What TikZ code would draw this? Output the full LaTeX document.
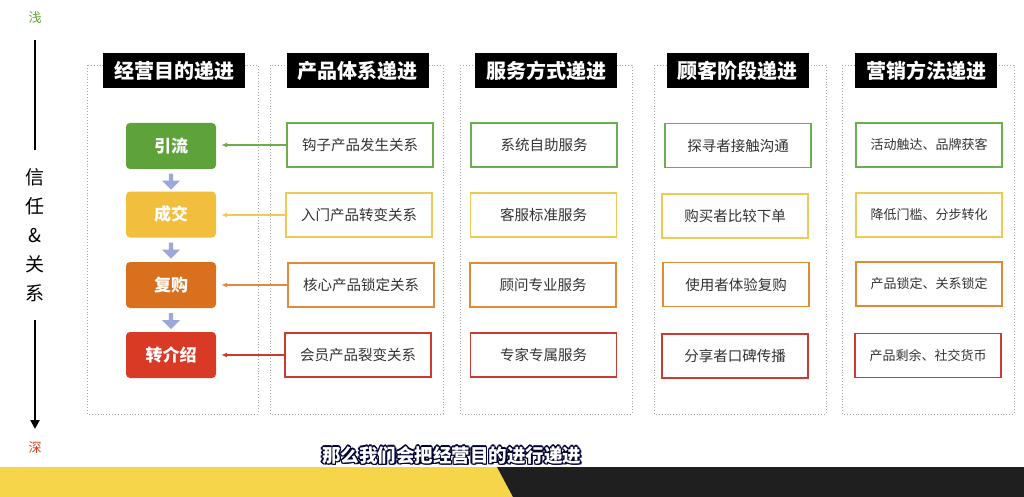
\documentclass[tikz,border=0pt]{standalone}
\usepackage{fontspec}
\setmainfont{Noto Sans CJK SC}
\newfontfamily\cjk{Noto Sans CJK SC}
\usetikzlibrary{shapes.arrows,arrows.meta}
\definecolor{cgreen}{HTML}{5EA23A}
\definecolor{cyellow}{HTML}{F2BE3E}
\definecolor{corange}{HTML}{D9701E}
\definecolor{cred}{HTML}{D93A26}
\definecolor{bgreen}{HTML}{6AAE4F}
\definecolor{byellow}{HTML}{EFCB55}
\definecolor{borange}{HTML}{E08A3A}
\definecolor{bred}{HTML}{CC3B30}
\definecolor{lav}{HTML}{9EA8D8}
\definecolor{band}{HTML}{F7D54A}
\definecolor{txt}{HTML}{333333}
\tikzset{
  colframe/.style={draw=gray!70, dotted, line width=0.9pt},
  titlebox/.style={fill=black, text=white, font=\cjk\bfseries\fontsize{20}{22}\selectfont, minimum width=142pt, minimum height=35pt, inner sep=0pt},
  stage/.style={rounded corners=4pt, minimum width=90pt, minimum height=46pt, text=white, font=\cjk\bfseries\fontsize{17}{19}\selectfont, inner sep=0pt},
  item/.style={draw=#1, line width=1.6pt, fill=white, minimum width=146pt, minimum height=44pt, text=txt, font=\cjk\fontsize{14.5}{16}\selectfont, inner sep=0pt},
  itemsm/.style={item=#1, font=\cjk\fontsize{13}{15}\selectfont},
  link/.style={draw=#1, line width=1.2pt, -{Latex[length=6pt,width=5pt]}, shorten >=5pt},
  downarr/.style={single arrow, fill=lav, draw=none, rotate=-90, minimum width=18pt, minimum height=16pt, single arrow head extend=4pt, inner sep=1pt},
}
\begin{document}
\begin{tikzpicture}[x=1pt,y=-1pt]
\useasboundingbox (0,0) rectangle (1024,497);
\fill[white] (0,0) rectangle (1024,497);

% left axis
\node[text=cgreen, font=\cjk\fontsize{13}{15}\selectfont] (shallow) at (35,18) {浅};
\coordinate (l1a) at (35,40);
\coordinate (l1b) at (35,150);
\draw[line width=2pt] (l1a) -- (l1b);
\node[font=\cjk\fontsize{19}{29}\selectfont, align=center, inner sep=0pt] (trust) at (35,235) {信\\任\\\&\\关\\系};
\coordinate (l2a) at (35,320);
\coordinate (l2b) at (35,429);
\draw[line width=2pt, -{Triangle[length=9pt,width=9pt]}] (l2a) -- (l2b);
\node[text=cred, font=\cjk\fontsize{13}{15}\selectfont] (deep) at (35,448) {深};

% column frames
\draw[colframe] (87,65) rectangle (258,414);
\draw[colframe] (270,65) rectangle (443,414);
\draw[colframe] (460,65) rectangle (632,414);
\draw[colframe] (654,65) rectangle (826,414);
\draw[colframe] (842,65) rectangle (1014,414);

% titles
\node[titlebox] (t1) at (174,70.5) {经营目的递进};
\node[titlebox] (t2) at (357.5,70.5) {产品体系递进};
\node[titlebox] (t3) at (546,70.5) {服务方式递进};
\node[titlebox] (t4) at (737.5,70.5) {顾客阶段递进};
\node[titlebox] (t5) at (926,70.5) {营销方法递进};

% column 1 stages
\node[stage, fill=cgreen] (s1) at (171,146) {引流};
\node[stage, fill=cyellow] (s2) at (171,214.5) {成交};
\node[stage, fill=corange] (s3) at (171,285) {复购};
\node[stage, fill=cred] (s4) at (171,355) {转介绍};
\node[downarr] (d1) at (171,180.5) {};
\node[downarr] (d2) at (171,249.5) {};
\node[downarr] (d3) at (171,320) {};

% column 2
\node[item=bgreen] (p1) at (360,145) {钩子产品发生关系};
\node[item=byellow] (p2) at (359,215) {入门产品转变关系};
\node[item=borange] (p3) at (361,285) {核心产品锁定关系};
\node[item=bred] (p4) at (358,355) {会员产品裂变关系};

% column 3
\node[item=bgreen] (v1) at (544,145) {系统自助服务};
\node[item=byellow] (v2) at (543.5,215) {客服标准服务};
\node[item=borange] (v3) at (543,285) {顾问专业服务};
\node[item=bred] (v4) at (543.5,355) {专家专属服务};

% column 4
\node[item=bgreen] (c1) at (738,145.5) {探寻者接触沟通};
\node[item=byellow] (c2) at (735,216) {购买者比较下单};
\node[item=borange] (c3) at (736,284.5) {使用者体验复购};
\node[item=bred] (c4) at (735,356) {分享者口碑传播};

% column 5
\node[itemsm=bgreen] (m1) at (929,145) {活动触达、品牌获客};
\node[itemsm=byellow] (m2) at (929,215) {降低门槛、分步转化};
\node[itemsm=borange] (m3) at (929,284) {产品锁定、关系锁定};
\node[itemsm=bred] (m4) at (928,355.5) {产品剩余、社交货币};

% links
\draw[link=bgreen] (p1.west) -- (s1.east |- p1.west);
\draw[link=byellow] (p2.west) -- (s2.east |- p2.west);
\draw[link=borange] (p3.west) -- (s3.east |- p3.west);
\draw[link=bred] (p4.west) -- (s4.east |- p4.west);

% bottom band
\fill[band] (0,467) -- (497,467) -- (513,497) -- (0,497) -- cycle;
\fill[black!88] (497,467) -- (1024,467) -- (1024,497) -- (513,497) -- cycle;

% subtitle with outline
\foreach \dx/\dy in {-1.3/0,1.3/0,0/-1.3,0/1.3,-1/-1,1/1,-1/1,1/-1,1.5/1.8}{
  \node[text=black!80!blue, font=\cjk\bfseries\fontsize{18.5}{20}\selectfont] at (451.5+\dx,455+\dy) {那么我们会把经营目的进行递进};
}
\node[text=white, font=\cjk\bfseries\fontsize{18.5}{20}\selectfont] (sub) at (451.5,455) {那么我们会把经营目的进行递进};
\end{tikzpicture}
\end{document}
